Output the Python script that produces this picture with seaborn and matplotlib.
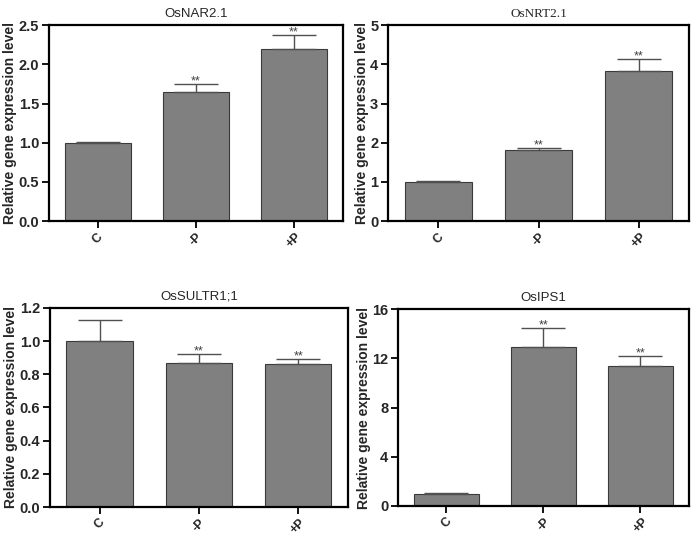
import pandas as pd
import matplotlib.pyplot as plt
import seaborn as sns

# Datos
grupos = ["C", "-P", "+P"]

titulos = ["OsNAR2.1", "OsNRT2.1", "OsSULTR1;1", "OsIPS1"]

nar_media = [1.0, 1.65, 2.19]
nar_err = [0.01, 0.10, 0.18]

nrt_media = [1.0, 1.81, 3.84]
nrt_err = [0.02, 0.05, 0.30]

sultr_media = [1.0, 0.87, 0.86]
sultr_err = [0.13, 0.05, 0.03]

ips_media = [1.0, 12.9, 11.4]
ips_err = [0.05, 1.6, 0.8]

signif = ["", "**", "**"]

yticks_list = [
    [0.0, 0.5, 1.0, 1.5, 2.0, 2.5],
    [0, 1, 2, 3, 4, 5],
    [0.0, 0.2, 0.4, 0.6, 0.8, 1.0, 1.2],
    [0, 4, 8, 12, 16],
]
ytick_fmt = ["{:.1f}", "{:d}", "{:.1f}", "{:d}"]

medias = [nar_media, nrt_media, sultr_media, ips_media]
errores = [nar_err, nrt_err, sultr_err, ips_err]

sns.set_style("white")
plt.rcParams["font.family"] = ["Liberation Sans", "DejaVu Sans"]

fig = plt.figure(figsize=(6.96, 5.38), dpi=100)
posiciones = [
    [0.0704, 0.589, 0.4224, 0.3643],
    [0.5575, 0.589, 0.4325, 0.3643],
    [0.0718, 0.0576, 0.428, 0.370],
    [0.5718, 0.0595, 0.418, 0.366],
]

for k in range(4):
    ax = fig.add_axes(posiciones[k])
    df = pd.DataFrame({"grupo": grupos, "valor": medias[k]})
    sns.barplot(data=df, x="grupo", y="valor", color="#808080", saturation=1,
                edgecolor="#3a3a3a", linewidth=0.8, width=0.67,
                errorbar=None, ax=ax)
    xs = list(range(len(grupos)))
    ax.errorbar(xs, medias[k], yerr=[[0] * 3, errores[k]], fmt="none",
                ecolor="#505050", elinewidth=1.0, capsize=16, capthick=1.0)
    for i in xs:
        if signif[i]:
            ax.annotate(signif[i], (i, medias[k][i] + errores[k][i]),
                        xytext=(0, -2.5), textcoords="offset points",
                        ha="center", va="bottom", fontsize=9, color="#404040")

    yt = yticks_list[k]
    ax.set_ylim(yt[0], yt[-1])
    ax.set_xlim(-0.5, 2.5)
    ax.set_yticks(yt)
    ax.set_yticklabels([ytick_fmt[k].format(v) for v in yt],
                       fontsize=10.5, fontweight="bold")
    ax.set_xticks(xs)
    ax.set_xticklabels(grupos, rotation=45, ha="center", va="top",
                       fontsize=9, fontweight="bold")
    ax.set_xlabel("")
    ax.set_ylabel("Relative gene expression level", fontsize=10,
                  fontweight="bold", labelpad=1)
    if k == 1:
        ax.set_title(titulos[k], fontsize=9.5, family=["Liberation Serif"], pad=6)
    else:
        ax.set_title(titulos[k], fontsize=9.5, pad=6)
    for s in ax.spines.values():
        s.set_visible(True)
        s.set_color("black")
        s.set_linewidth(1.6)
    ax.tick_params(axis="both", direction="out", length=5, width=1.3,
                   color="black", pad=2, left=True, bottom=True)

fig.savefig("out.png", dpi=100)
